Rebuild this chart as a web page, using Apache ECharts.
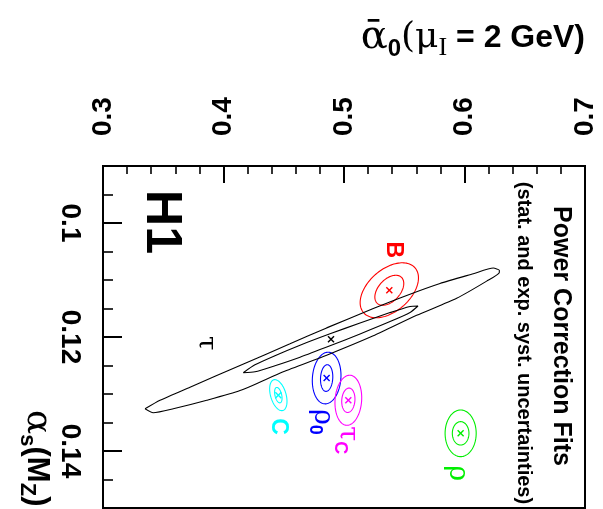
<!DOCTYPE html>
<html>
<head>
<meta charset="utf-8">
<script src="https://cdn.jsdelivr.net/npm/echarts@6/dist/echarts.min.js"></script>
<style>
  html, body { margin: 0; padding: 0; background: #fff; }
  #c { width: 603px; height: 509px; }
</style>
</head>
<body>
<div id="c"></div>
<script>
// Axis ticks
const alpha0Ticks = [0.3, 0.4, 0.5, 0.6, 0.7];
const alphaSTicks = [0.1, 0.12, 0.14];

// Power-correction fits: names, best-fit (alpha0, alphaS), contour half-widths and correlation
const fitNames = ['B', 'ρ0', 'τC', 'C', 'ρ'];
const fitAlpha0 = [0.5376, 0.4856, 0.5036, 0.4455, 0.5968];
const fitAlphaS = [0.1118, 0.1272, 0.1311, 0.1302, 0.1369];
const innerHalfA0 = [0.0120, 0.0051, 0.0055, 0.0031, 0.0069];
const innerHalfAS = [0.00263, 0.00234, 0.00214, 0.00135, 0.00205];
const outerHalfA0 = [0.0242, 0.0119, 0.0111, 0.0072, 0.0129];
const outerHalfAS = [0.00482, 0.00453, 0.00439, 0.00272, 0.00409];
const fitCorr = [-0.45, -0.1, -0.1, 0.4, 0.0];
// where each fit's name sits (alpha0, alphaS)
const labelAlpha0 = [0.5409, 0.4815, 0.5022, 0.4455, 0.5935];
const labelAlphaS = [0.1047, 0.1349, 0.1381, 0.1357, 0.1439];

// tau fit: best fit, name anchor and its two contours (alpha0, alphaS)
const tauBest = [0.4892, 0.1204];
const tauLabel = [0.3855, 0.1211];
const tauInner = [
  [0.4164, 0.12626], [0.4261, 0.12488], [0.4427, 0.12328], [0.4635, 0.12144],
  [0.4884, 0.11944], [0.5133, 0.11754], [0.5382, 0.11572], [0.5548, 0.11465],
  [0.5614, 0.11456], [0.5548, 0.11570], [0.5382, 0.11730], [0.5133, 0.11947],
  [0.4884, 0.12154], [0.4635, 0.12354], [0.4427, 0.12504], [0.4261, 0.12611],
  [0.4164, 0.12626]
];
const tauOuter = [
  [0.3349, 0.1326], [0.3473, 0.1311], [0.3722, 0.1288], [0.4137, 0.1250],
  [0.4552, 0.1212], [0.4856, 0.1184], [0.5243, 0.1150], [0.5520, 0.1127],
  [0.5797, 0.1106], [0.6073, 0.1089], [0.6239, 0.1079], [0.6289, 0.1083],
  [0.6289, 0.1087], [0.6184, 0.1102], [0.5935, 0.1132], [0.5603, 0.1162],
  [0.5243, 0.1198], [0.4856, 0.1232], [0.4496, 0.1261], [0.4137, 0.1294],
  [0.3861, 0.1311], [0.3583, 0.1326], [0.3417, 0.1333], [0.3349, 0.1326]
];

const fitColours = ['#ff0000', '#0000ff', '#ff00ff', '#00ffff', '#00ee00'];
const SANS = '"Liberation Sans", Arial, sans-serif';
const SERIF = '"DejaVu Serif", "Liberation Serif", serif';

// error ellipse from centre, half-extents and correlation
function ellipseRenderer(colour) {
  return function (params, api) {
    const cx = api.value(0), cy = api.value(1);
    const sx = api.value(2), sy = api.value(3), r = api.value(4);
    const q = Math.sqrt(1 - r * r);
    const pts = [];
    for (let k = 0; k < 120; k++) {
      const t = 2 * Math.PI * k / 120;
      pts.push(api.coord([cx + sx * Math.cos(t), cy + sy * (r * Math.cos(t) + q * Math.sin(t))]));
    }
    return { type: 'polygon', shape: { points: pts },
             style: { fill: 'none', stroke: colour, lineWidth: 1.1 } };
  };
}

// small "x" marking a best-fit point
function crossRenderer(colour) {
  return function (params, api) {
    const p = api.coord([api.value(0), api.value(1)]);
    const h = 3;
    return { type: 'group', children: [
      { type: 'line', shape: { x1: p[0] - h, y1: p[1] - h, x2: p[0] + h, y2: p[1] + h }, style: { stroke: colour, lineWidth: 1.4 } },
      { type: 'line', shape: { x1: p[0] - h, y1: p[1] + h, x2: p[0] + h, y2: p[1] - h }, style: { stroke: colour, lineWidth: 1.4 } }
    ] };
  };
}

// rotated name written next to a fit
function nameRenderer(text, colour, rich, size, family, weight) {
  return function (params, api) {
    const p = api.coord([api.value(0), api.value(1)]);
    return { type: 'text', x: p[0], y: p[1], rotation: -Math.PI / 2,
      style: { text: text, fill: colour, fontSize: size, fontFamily: family, fontWeight: weight,
               align: 'center', verticalAlign: 'middle', rich: rich } };
  };
}

const series = [
  { type: 'line', data: tauOuter, showSymbol: false, smooth: 0.2, silent: true,
    lineStyle: { color: '#000', width: 1.1 } },
  { type: 'line', data: tauInner, showSymbol: false, smooth: 0.2, silent: true,
    lineStyle: { color: '#000', width: 1.1 } },
  { type: 'custom', renderItem: crossRenderer('#000'), data: [tauBest], silent: true },
  { type: 'custom', data: [tauLabel], silent: true,
    renderItem: nameRenderer('τ', '#000', {}, 26, SERIF, 'normal') }
];

const nameStyles = [
  { text: 'B', rich: {}, size: 23, family: SANS, weight: 'bold' },
  { text: '{g|ρ}{s|0}', rich: { g: { fontSize: 27, fontFamily: SERIF }, s: { fontSize: 18, fontFamily: SANS, fontWeight: 'bold', padding: [14, 0, 0, 0] } }, size: 27, family: SERIF, weight: 'normal' },
  { text: '{g|τ}{s|C}', rich: { g: { fontSize: 27, fontFamily: SERIF }, s: { fontSize: 18, fontFamily: SANS, fontWeight: 'bold', padding: [14, 0, 0, 0] } }, size: 27, family: SERIF, weight: 'normal' },
  { text: 'C', rich: {}, size: 23, family: SANS, weight: 'bold' },
  { text: 'ρ', rich: {}, size: 27, family: SERIF, weight: 'normal' }
];

fitNames.forEach(function (name, i) {
  const col = fitColours[i];
  series.push({ type: 'custom', name: name, silent: true, renderItem: ellipseRenderer(col),
    data: [
      [fitAlpha0[i], fitAlphaS[i], innerHalfA0[i], innerHalfAS[i], fitCorr[i]],
      [fitAlpha0[i], fitAlphaS[i], outerHalfA0[i], outerHalfAS[i], fitCorr[i]]
    ] });
  series.push({ type: 'custom', silent: true, renderItem: crossRenderer(col),
    data: [[fitAlpha0[i], fitAlphaS[i]]] });
  const ns = nameStyles[i];
  series.push({ type: 'custom', silent: true,
    renderItem: nameRenderer(ns.text, col, ns.rich, ns.size, ns.family, ns.weight),
    data: [[labelAlpha0[i], labelAlphaS[i]]] });
});

const tickLabelStyle = { color: '#000', fontSize: 28, fontWeight: 'bold', fontFamily: SANS };

const option = {
  animation: false,
  backgroundColor: '#fff',
  grid: { left: 103, top: 166, width: 482, height: 342, show: true,
          borderColor: '#000', borderWidth: 2, backgroundColor: 'transparent' },
  xAxis: {
    type: 'value', position: 'top', min: alpha0Ticks[0], max: alpha0Ticks[alpha0Ticks.length - 1], interval: 0.1,
    axisLine: { show: true, lineStyle: { color: '#000', width: 2 } },
    axisTick: { show: true, inside: true, length: 17, lineStyle: { color: '#000', width: 2 } },
    minorTick: { show: true, splitNumber: 5, length: 8, lineStyle: { color: '#000', width: 1.6 } },
    splitLine: { show: false }, minorSplitLine: { show: false },
    axisLabel: Object.assign({ rotate: -90, margin: 30, showMinLabel: true, showMaxLabel: true,
      hideOverlap: false, formatter: function (v) { return v.toFixed(1); } }, tickLabelStyle)
  },
  yAxis: [
    {
      type: 'value', position: 'left', inverse: true, min: 0.09, max: 0.15, interval: 0.005,
      axisLine: { show: true, lineStyle: { color: '#000', width: 2 } },
      axisTick: { show: true, inside: true, length: 10, lineStyle: { color: '#000', width: 1.6 } },
      axisLabel: { show: false }, splitLine: { show: false }
    },
    {
      type: 'value', position: 'left', inverse: true, min: 0.09, max: 0.15,
      axisLine: { show: false },
      axisTick: { show: true, inside: true, length: 19, customValues: alphaSTicks,
                  lineStyle: { color: '#000', width: 2 } },
      axisLabel: Object.assign({ rotate: -90, margin: 19, customValues: alphaSTicks, hideOverlap: false,
        formatter: function (v) { return String(v); } }, tickLabelStyle),
      splitLine: { show: false }
    }
  ],
  graphic: { elements: [
    { type: 'text', x: 585, y: 38, silent: true,
      style: { text: '{a|ᾱ}{s|0}{b|(μ}{i|I}{c| = 2 GeV)}', align: 'right', verticalAlign: 'middle', fill: '#000',
        rich: {
          a: { fontSize: 40, fontFamily: SERIF },
          s: { fontSize: 24, fontFamily: SANS, fontWeight: 'bold', padding: [22, 0, 0, 0] },
          b: { fontSize: 36, fontFamily: SERIF },
          i: { fontSize: 26, fontFamily: '"Liberation Serif", serif', padding: [20, 0, 0, 0] },
          c: { fontSize: 32, fontFamily: SANS, fontWeight: 'bold' }
        } } },
    { type: 'text', x: 37, y: 410, rotation: -Math.PI / 2, silent: true,
      style: { text: '{a|α}{s|s}{b|(M}{s|Z}{b|)}', align: 'left', verticalAlign: 'middle', fill: '#000',
        rich: {
          a: { fontSize: 36, fontFamily: SERIF },
          s: { fontSize: 22, fontFamily: SANS, fontWeight: 'bold', padding: [20, 0, 0, 0] },
          b: { fontSize: 31, fontFamily: SANS, fontWeight: 'bold' }
        } } },
    { type: 'text', x: 161, y: 222, rotation: -Math.PI / 2, silent: true,
      style: { text: 'H1', fontSize: 50, fontWeight: 'bold', fontFamily: SANS, fill: '#000',
               align: 'center', verticalAlign: 'middle' } },
    { type: 'text', x: 561, y: 336, rotation: -Math.PI / 2, silent: true,
      style: { text: 'Power Correction Fits', fontSize: 25, fontWeight: 'bold', fontFamily: SANS, fill: '#000',
               align: 'center', verticalAlign: 'middle' } },
    { type: 'text', x: 524, y: 343, rotation: -Math.PI / 2, silent: true,
      style: { text: '(stat. and exp. syst. uncertainties)', fontSize: 20, fontWeight: 'bold', fontFamily: SANS, fill: '#000',
               align: 'center', verticalAlign: 'middle' } }
  ] },
  series: series
};

const chart = echarts.init(document.getElementById('c'), null, { renderer: 'canvas' });
chart.setOption(option);
</script>
</body>
</html>
